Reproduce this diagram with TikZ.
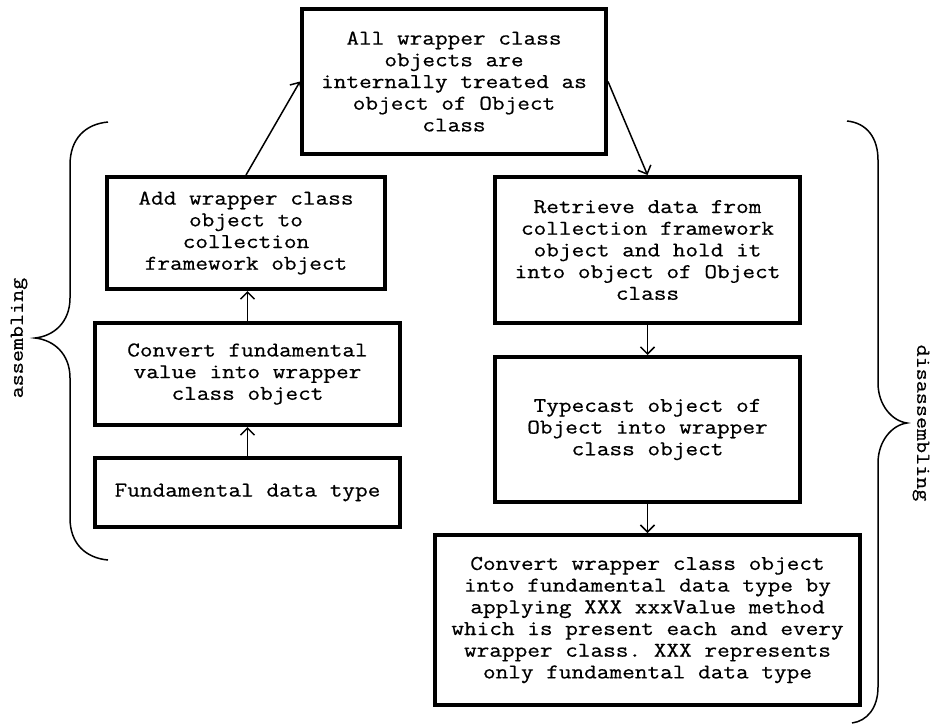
\documentclass[tikz,border=0pt]{standalone}
\usepackage{fontspec}
\setmonofont{Latin Modern Mono}[FakeStretch=1.17, FakeBold=0.6]
\usetikzlibrary{arrows.meta}
\begin{document}
\begin{tikzpicture}[x=1pt,y=-1pt,
  box/.style={draw, line width=4pt, inner sep=0pt, align=center,
    font=\ttfamily\fontsize{21}{21.7}\selectfont},
  arr/.style={line width=1.5pt, -{Straight Barb[length=7pt,width=14pt,line width=1.5pt]}},
  brace/.style={line width=1.5pt},
  side/.style={inner sep=0.5pt, font=\ttfamily\fontsize{20}{20}\selectfont}]
\useasboundingbox (0,0) rectangle (933,726);
\node[box, minimum width=304pt, minimum height=145pt] (top) at (454,81.5)
  {All wrapper class\\objects are\\internally treated as\\object of Object\\class};
\node[box, minimum width=278pt, minimum height=112pt] (add) at (246,233)
  {Add wrapper class\\object to\\collection\\framework object};
\node[box, minimum width=305pt, minimum height=102pt] (conv) at (247.5,374)
  {Convert fundamental\\value into wrapper\\class object};
\node[box, minimum width=305pt, minimum height=69pt] (fund) at (247.5,492.5)
  {Fundamental data type};
\node[box, minimum width=305pt, minimum height=146pt] (retr) at (647.5,250)
  {Retrieve data from\\collection framework\\object and hold it\\into object of Object\\class};
\node[box, minimum width=305pt, minimum height=145pt] (type) at (647.5,429.5)
  {Typecast object of\\Object into wrapper\\class object};
\node[box, minimum width=425pt, minimum height=170pt] (convw) at (647.5,620)
  {Convert wrapper class object\\into fundamental data type by\\applying XXX xxxValue method\\which is present each and every\\wrapper class. XXX represents\\only fundamental data type};
\draw[arr] (fund.north) -- (conv.south);
\draw[arr] (conv.north) -- (conv.north |- add.south);
\draw[arr] (add.north) -- (top.west);
\draw[arr] (top.east) -- (retr.north);
\draw[arr] (retr.south) -- (type.north);
\draw[arr] (type.south) -- (convw.north);
% left brace
\draw[brace] (108,122) .. controls (86,124) and (70,138) .. (70,165) -- (70,298)
  .. controls (70,322) and (54,336) .. (35,338)
  .. controls (54,340) and (70,354) .. (70,378) -- (70,518)
  .. controls (70,544) and (86,558) .. (108,560);
% right brace
\draw[brace] (847,121) .. controls (867,123) and (878,138) .. (878,160) -- (878,383)
  .. controls (878,405) and (892,421) .. (907,423)
  .. controls (892,425) and (878,441) .. (878,463) -- (878,687)
  .. controls (878,708) and (867,721) .. (852,723);
\node[side, rotate=90] (asm) at (19,338) {assembling};
\node[side, rotate=-90] (dis) at (921,423) {disassembling};
\end{tikzpicture}
\end{document}
